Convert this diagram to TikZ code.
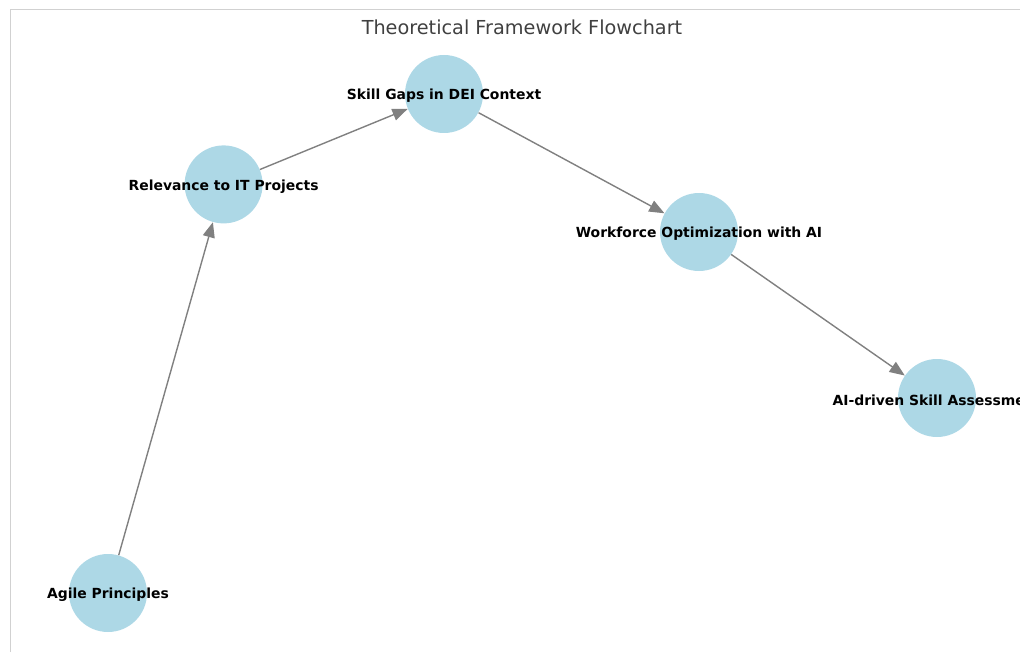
\documentclass[tikz,border=0pt]{standalone}
\usepackage{fontspec}
\setmainfont{DejaVu Sans}
\usetikzlibrary{arrows.meta}

\begin{document}
\begin{tikzpicture}[
  topic/.style={circle, fill={rgb,255:red,173;green,216;blue,230}, minimum size=1.95cm, inner sep=0pt},
  topiclabel/.style={font=\fontsize{9.9}{12}\selectfont\bfseries, text=black, yshift=-0.05cm},
  link/.style={draw={rgb,255:red,128;green,128;blue,128}, line width=1pt, -{Triangle[length=0.38cm, width=0.3cm]}}
]

\useasboundingbox (0,0) rectangle (25.5, 16.3);

\draw [black!18, line width=0.6pt] (0.25, 0) -- (0.25, 16.075) -- (25.6, 16.075);

\node (title) at (13.05, 15.625) [text={rgb,255:red,64;green,64;blue,64}, font=\fontsize{13.7}{16}\selectfont] {Theoretical Framework Flowchart};

\node (agile) at (2.7, 1.475) [topic, label={[topiclabel]center:Agile Principles}] {};
\node (relevance) at (5.59, 11.69) [topic, label={[topiclabel]center:Relevance to IT Projects}] {};
\node (gaps) at (11.1, 13.95) [topic, label={[topiclabel]center:Skill Gaps in DEI Context}] {};
\node (workforce) at (17.475, 10.5) [topic, label={[topiclabel]center:Workforce Optimization with AI}] {};
\node (assessment) at (23.425, 6.35) [topic, label={[topiclabel]center:AI-driven Skill Assessment}] {};

\draw [link] (agile) -- (relevance);
\draw [link] (relevance) -- (gaps);
\draw [link] (gaps) -- (workforce);
\draw [link] (workforce) -- (assessment);
\end{tikzpicture}
\end{document}
